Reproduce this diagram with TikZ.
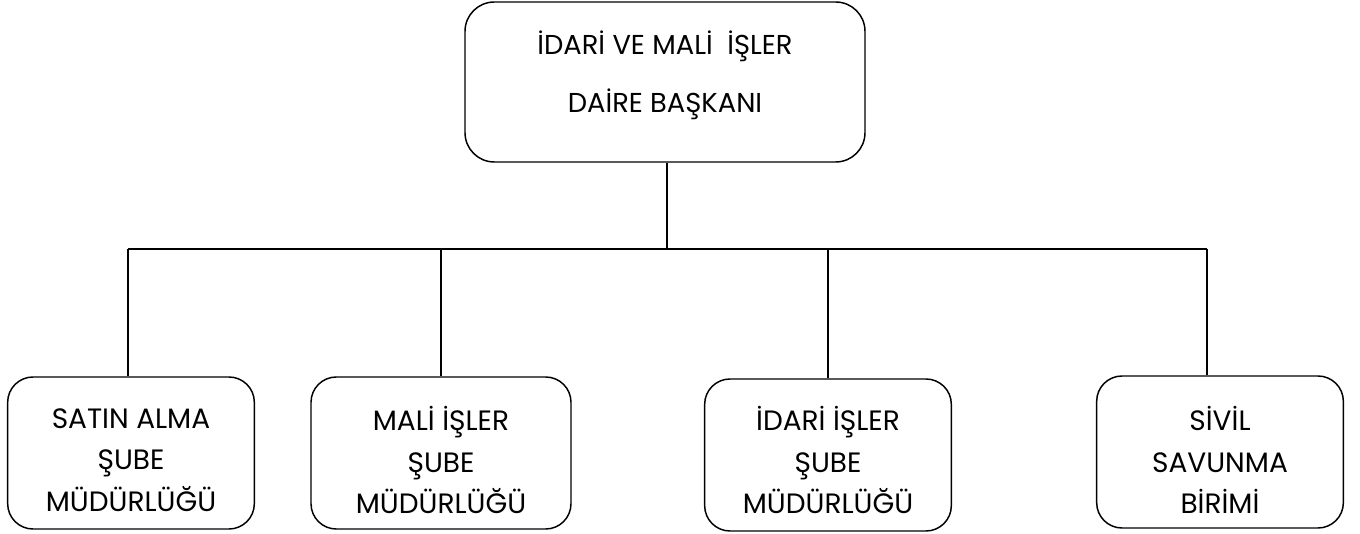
\documentclass[tikz,border=0pt]{standalone}
\usepackage{fontspec}
\setmainfont{Poppins}
\begin{document}
\begin{tikzpicture}[x=0.75pt,y=-0.75pt,
  topbox/.style={draw,line width=1.1pt,rounded corners=22pt,minimum width=300pt,minimum height=120pt,inner sep=0pt},
  toptext/.style={align=center,font=\fontsize{20.5}{43.5}\selectfont,inner sep=0pt},
  subbox/.style={draw,line width=1.1pt,rounded corners=19pt,minimum width=185pt,minimum height=114pt,inner sep=0pt},
  subtext/.style={align=center,font=\fontsize{21}{31}\selectfont,inner sep=0pt},
  link/.style={line width=1.5pt}]
\useasboundingbox (0,0) rectangle (1360,534);
\node[topbox] (top) at (665,82) {};
\node[toptext] (topt) at (665,75) {İDARİ VE MALİ \ İŞLER\\DAİRE BAŞKANI};
\node[subbox] (b1) at (131,453) {};
\node[subbox,minimum width=195pt] (b2) at (441,453) {};
\node[subbox] (b3) at (828,455) {};
\node[subbox] (b4) at (1220,452) {};
\node[subtext] (b1t) at (131,460) {SATIN ALMA\\ŞUBE\\MÜDÜRLÜĞÜ};
\node[subtext] (b2t) at (441,460) {MALİ İŞLER\\ŞUBE\\MÜDÜRLÜĞÜ};
\node[subtext] (b3t) at (828,460) {İDARİ İŞLER\\ŞUBE\\MÜDÜRLÜĞÜ};
\node[subtext] (b4t) at (1220,460) {SİVİL\\SAVUNMA\\BİRİMİ};
\coordinate (busL) at (128,249);
\coordinate (busR) at (1207,249);
\coordinate (busM) at (667,249);
\draw[link] (busL) -- (busR);
\draw[link] (top.south -| busM) -- (busM);
\draw[link] (busL) -- (busL |- b1.north);
\draw[link] (b2.north |- busL) -- (b2.north);
\draw[link] (b3.north |- busL) -- (b3.north);
\draw[link] (busR) -- (busR |- b4.north);
\end{tikzpicture}
\end{document}
